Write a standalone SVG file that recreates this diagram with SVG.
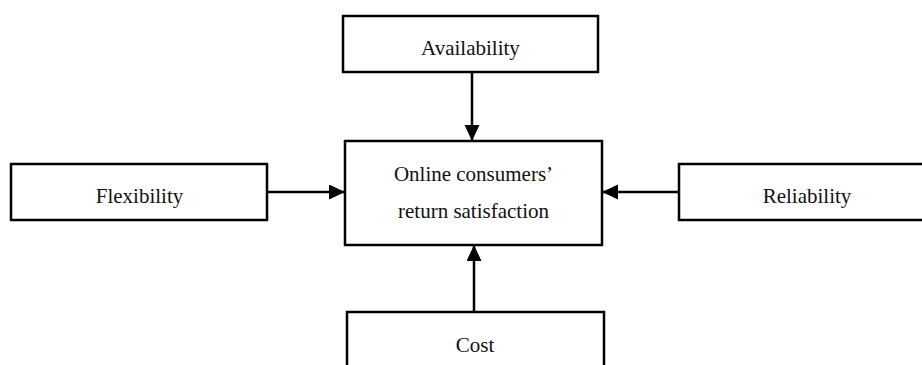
<svg xmlns="http://www.w3.org/2000/svg" width="922" height="365" viewBox="0 0 922 365">
  <style>
    .box { fill: #ffffff; stroke: #000000; stroke-width: 2.5; }
    .lbl { font-family: "Liberation Serif", "Times New Roman", serif; font-size: 21px; fill: #111111; text-anchor: middle; }
    .conn { stroke: #000000; stroke-width: 2.5; fill: none; marker-end: url(#arrow); }
  </style>
  <defs>
    <marker id="arrow" markerUnits="userSpaceOnUse" markerWidth="17" markerHeight="16" refX="16" refY="7.5" orient="auto" viewBox="0 0 17 16">
      <path d="M0,0 L16,7.5 L0,15 Z" fill="#000000"/>
    </marker>
  </defs>
  <rect width="922" height="365" fill="#ffffff"/>
  <g id="connectors">
    <line class="conn" x1="472" y1="72" x2="472" y2="141"/>
    <line class="conn" x1="268" y1="192" x2="345" y2="192"/>
    <line class="conn" x1="679" y1="192" x2="602" y2="192"/>
    <line class="conn" x1="474" y1="312" x2="474" y2="245"/>
  </g>
  <g id="availability">
    <rect class="box" x="343" y="16" width="255" height="56"/>
    <text class="lbl" x="470.5" y="55">Availability</text>
  </g>
  <g id="flexibility">
    <rect class="box" x="11" y="164" width="256" height="56"/>
    <text class="lbl" x="139.5" y="203">Flexibility</text>
  </g>
  <g id="reliability">
    <rect class="box" x="679" y="164" width="256" height="56"/>
    <text class="lbl" x="807" y="203">Reliability</text>
  </g>
  <g id="satisfaction">
    <rect class="box" x="345" y="141" width="257" height="104"/>
    <text class="lbl" x="473.5" y="181">Online consumers’</text>
    <text class="lbl" x="473.5" y="218">return satisfaction</text>
  </g>
  <g id="cost">
    <rect class="box" x="347" y="312" width="257" height="70"/>
    <text class="lbl" x="475" y="352">Cost</text>
  </g>
</svg>
